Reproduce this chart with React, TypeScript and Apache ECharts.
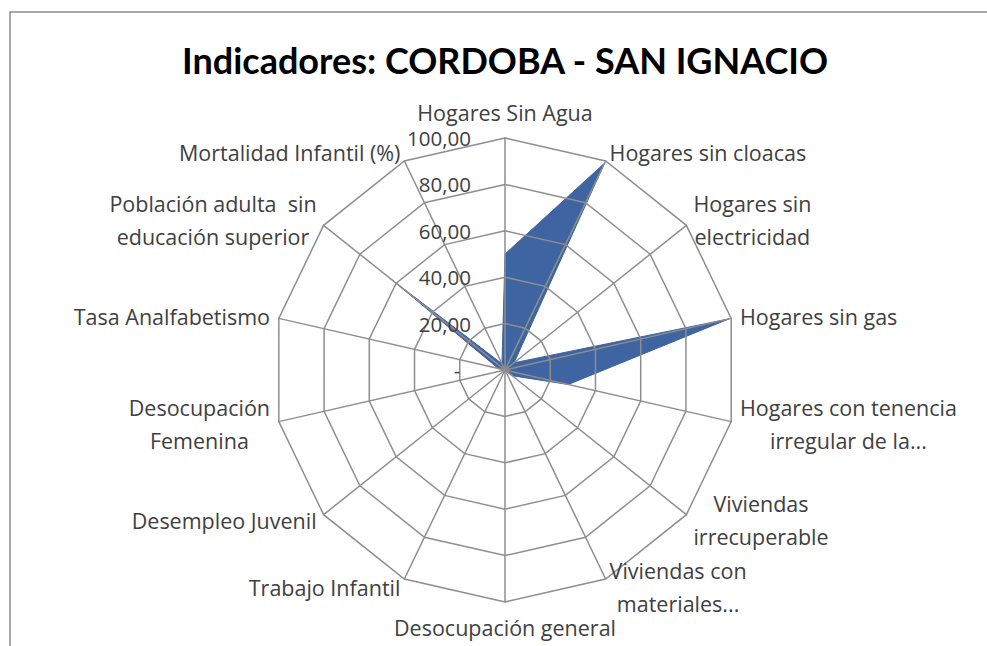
import React, { useEffect, useRef } from 'react';
import * as echarts from 'echarts';

const indicatorNames = [
  'Hogares Sin Agua',
  'Hogares sin cloacas',
  'Hogares sin\nelectricidad',
  'Hogares sin gas',
  'Hogares con tenencia\nirregular de la...',
  'Viviendas\nirrecuperable',
  'Viviendas con\nmateriales...',
  'Desocupación general',
  'Trabajo Infantil',
  'Desempleo Juvenil',
  'Desocupación\nFemenina',
  'Tasa Analfabetismo',
  'Población adulta  sin\neducación superior',
  'Mortalidad Infantil (%)',
];
const seriesValues = [50, 99, 5, 99, 28, 4, 0, 0, 0, 0, 0, 3, 62, 3];
const tickValues = [0, 20, 40, 60, 80, 100];
const tickLabels = ['-\u00a0\u00a0', '20,00', '40,00', '60,00', '80,00', '100,00'];
const maxValue = 100;
const titleText = 'Indicadores: CORDOBA - SAN IGNACIO';

export default function App() {
  const ref = useRef<HTMLDivElement>(null);
  useEffect(() => {
    if (!ref.current) return;
    const chart = echarts.init(ref.current, undefined, { renderer: 'svg' });
    const labelFont = 'Open Sans';
    const labelSize = 21.5;
    const textColor = '#404040';
    // ECharts radar runs counter-clockwise; reorder so the picture runs clockwise
    const n = indicatorNames.length;
    const order = [0, ...Array.from({ length: n - 1 }, (_, i) => n - 1 - i)];
    const indicators = order.map((idx, k) => {
      const ind: any = { name: indicatorNames[idx], max: maxValue, min: 0 };
      if (k === 0) {
        ind.axisLabel = {
          show: true,
          margin: 34,
          fontSize: 20.5,
          color: textColor,
          fontFamily: labelFont,
          padding: [14, 0, 0, 0],
          formatter: (v: number) => {
            const i = tickValues.indexOf(Math.round(v));
            return i >= 0 ? tickLabels[i] : '';
          },
        };
      }
      return ind;
    });
    const data = order.map((idx) => seriesValues[idx]);
    const gridColor = '#8e8e8e';
    chart.setOption({
      animation: false,
      backgroundColor: '#ffffff',
      title: {
        text: titleText,
        left: 177,
        top: 37,
        textStyle: { fontFamily: 'Lato', fontWeight: 'bold', fontSize: 36, color: '#000000' },
      },
      graphic: [
        {
          type: 'rect',
          shape: { x: 10, y: 12, width: 1100, height: 800 },
          style: { fill: 'none', stroke: '#8a8a8a', lineWidth: 1.5 },
          silent: true,
        },
      ],
      radar: {
        center: [505, 370],
        radius: 232,
        shape: 'polygon',
        splitNumber: 5,
        startAngle: 90,
        nameGap: 9,
        axisName: {
          color: textColor,
          fontFamily: labelFont,
          fontSize: labelSize,
          formatter: (name: string) =>
            name
              .split('\n')
              .map((l) => '{c|' + l + '}')
              .join('\n'),
          rich: {
            c: {
              align: 'center',
              color: textColor,
              fontFamily: labelFont,
              fontSize: labelSize,
              lineHeight: 33,
            },
          },
        },
        axisLine: { lineStyle: { color: gridColor, width: 1.5 } },
        splitLine: { lineStyle: { color: gridColor, width: 1.5 } },
        splitArea: { show: false },
        axisTick: { show: false },
        axisLabel: { show: false },
        indicator: indicators,
        z: 3,
      },
      series: [
        {
          type: 'radar',
          z: 1,
          symbol: 'none',
          lineStyle: { color: '#3e65a1', width: 1 },
          areaStyle: { color: '#3e65a1', opacity: 1 },
          data: [{ value: data, name: 'San Ignacio' }],
        },
      ],
    });
    return () => chart.dispose();
  }, []);
  return <div ref={ref} style={{ position: 'fixed', left: 0, top: 0, width: 987, height: 646 }} />;
}
